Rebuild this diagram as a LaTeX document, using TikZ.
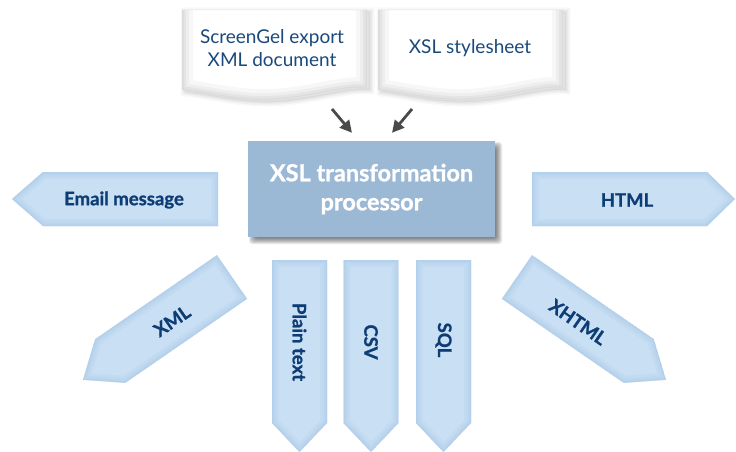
\documentclass[tikz,border=0pt]{standalone}
\usepackage{fontspec}
\setmainfont{Lato}
\newfontfamily\heavyfont{Lato}[BoldFeatures={FakeBold=1.1}]
\usetikzlibrary{arrows.meta,calc}

\definecolor{labelblue}{HTML}{0D3D74}
\definecolor{doctext}{HTML}{1A4A7C}
\definecolor{arrowfill}{HTML}{C9DFF4}
\definecolor{arrowedge}{HTML}{A6C5E6}
\definecolor{procfill}{HTML}{9BB8D4}
\definecolor{feedgray}{HTML}{4A4A4A}

\tikzset{
  outlabel/.style={font=\heavyfont\bfseries\fontsize{18.5}{20}\selectfont, text=labelblue, inner sep=0pt},
  doclabel/.style={font=\fontsize{19}{23.5}\selectfont, text=doctext, align=center, inner sep=0pt},
  procbox/.style={fill=procfill, minimum width=247pt, minimum height=96pt, inner sep=0pt,
    text=white, font=\heavyfont\bfseries\fontsize{23.5}{29}\selectfont, align=center},
  feed/.style={draw=feedgray, line width=2.8pt, -{Triangle[length=12pt,width=12pt]}},
}

% pentagon-shaped output arrow along the local x axis: body length, tip length, half width
\newcommand\outarrowshape[3]{%
  \begin{scope}
    \clip (0,-#3) -- (#1,-#3) -- ({#1+#2},0) -- (#1,#3) -- (0,#3) -- cycle;
    \fill[arrowfill] (0,-#3) -- (#1,-#3) -- ({#1+#2},0) -- (#1,#3) -- (0,#3) -- cycle;
    \foreach \w/\o in {14/0.15,9/0.18,5/0.22,2/0.25}
      \draw[arrowedge, line width=\w pt, opacity=\o]
        (0,-#3) -- (#1,-#3) -- ({#1+#2},0) -- (#1,#3) -- (0,#3) -- cycle;
  \end{scope}}

% sheet of paper with a wavy lower edge, 185 wide
\newcommand\docpath{(0,0) -- (185,0) -- (185,78) .. controls (160,76) and (125,89) .. (88,90)
  .. controls (55,91) and (30,84) .. (0,80) -- cycle}
% sides and lower edge only, for the curled shading
\newcommand\docrim{(0,-30) -- (0,80) .. controls (30,84) and (55,91) .. (88,90)
  .. controls (125,89) and (160,76) .. (185,78) -- (185,-30)}
\newcommand\papersheet{%
  \foreach \w/\o in {9/0.025,6/0.03,3/0.04}
    \draw[black, opacity=\o, line width=\w pt, shift={(3,2)}] \docpath;
  \fill[black, opacity=0.05, shift={(3,2)}] \docpath;
  \fill[white] \docpath;
  \begin{scope}
    \clip \docpath;
    \foreach \w/\o in {22/0.03,14/0.035,8/0.04,3/0.04}
      \draw[black, opacity=\o, line width=\w pt] \docrim;
  \end{scope}
  \draw[black!10, line width=0.4pt] \docpath;}

\begin{document}
\begin{tikzpicture}[x=1pt, y=-1pt]
  \useasboundingbox (0,0) rectangle (736,452);
  \fill[white] (0,0) rectangle (736,452);

  % input documents
  \begin{scope}[shift={(182,10)}] \papersheet \end{scope}
  \begin{scope}[shift={(378,10)}] \papersheet \end{scope}
  \node[doclabel] (srcdoc) at (272,48) {ScreenGel export\\XML document};
  \node[doclabel] (xsldoc) at (470,48) {XSL stylesheet};

  % processor with soft shadow
  \foreach \e in {-3,...,3}
    \fill[black, opacity=0.085, rounded corners=3pt] (252-\e,145-\e) rectangle (499+\e,241+\e);
  \node[procbox] (proc) at (371.5,189) {XSL transformation\\processor};

  % feeds into the processor
  \coordinate (feedA) at (332,109);
  \coordinate (feedB) at (412,109);
  \draw[feed] (feedA) -- ($(proc.north)+(-19.5,-8)$);
  \draw[feed] (feedB) -- ($(proc.north)+(20.5,-8)$);

  % output formats
  \begin{scope}[shift={(218,199)}, rotate=180] \outarrowshape{175}{31}{27} \end{scope}
  \begin{scope}[shift={(532,199)}] \outarrowshape{175}{28}{27} \end{scope}
  \begin{scope}[shift={(299.5,260)}, rotate=-90] \outarrowshape{163}{29}{27.5} \end{scope}
  \begin{scope}[shift={(371,260)}, rotate=-90] \outarrowshape{163}{29}{27.5} \end{scope}
  \begin{scope}[shift={(443.5,260)}, rotate=-90] \outarrowshape{163}{29}{27.5} \end{scope}
  \begin{scope}[shift={(232,277)}, rotate=214.6] \outarrowshape{148}{33}{26.5} \end{scope}
  \begin{scope}[shift={(517,277)}, rotate=-34.6] \outarrowshape{148}{33}{26.5} \end{scope}

  \node[outlabel] (email) at (124,200) {Email message};
  \node[outlabel] (html) at (627,200) {HTML};
  \node[outlabel, rotate=-90] (plain) at (299.5,342) {Plain text};
  \node[outlabel, rotate=-90] (csv) at (371,342) {CSV};
  \node[outlabel, rotate=-90] (sql) at (443.5,340) {SQL};
  \node[outlabel, rotate=34.6] (xml) at (172,321) {XML};
  \node[outlabel, rotate=-34.6] (xhtml) at (578,322) {XHTML};
\end{tikzpicture}
\end{document}
